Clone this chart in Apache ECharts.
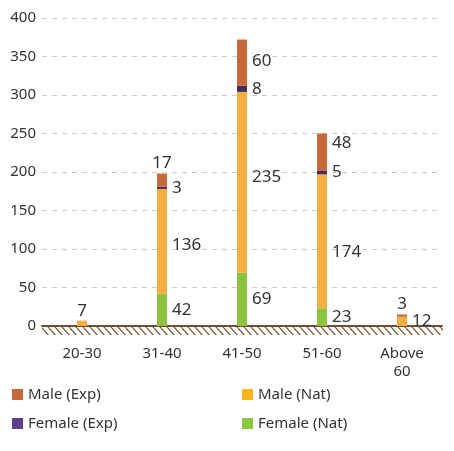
<!DOCTYPE html>
<html><head><meta charset="utf-8">
<script src="https://cdn.jsdelivr.net/npm/echarts@6/dist/echarts.min.js"></script>
<style>html,body{margin:0;padding:0;background:#fff}#c{width:454px;height:451px}</style>
</head><body><div id="c"></div>
<script>
const categories = ['20-30', '31-40', '41-50', '51-60', 'Above\n60'];
const femaleNat = [0, 42, 69, 23, 0];
const maleNat = [7, 136, 235, 174, 12];
const femaleExp = [0, 3, 8, 5, 0];
const maleExp = [0, 17, 60, 48, 3];
const yTicks = [0, 50, 100, 150, 200, 250, 300, 350, 400];

const FONT = '"Noto Sans", "Open Sans", sans-serif';
const TXT = '#333333';

// label placement style (not data)
const labelStyle = {
  'Female (Nat)': [{}, {}, {}, {}, {}],
  'Male (Nat)': [{position: 'top', distance: 1}, {offset: [0, 4]}, {offset: [0, -5]}, {offset: [0, 11]}, {}],
  'Female (Exp)': [{}, {}, {}, {}, {}],
  'Male (Exp)': [{}, {position: 'top', offset: [0, 3]}, {offset: [0, -2]}, {offset: [0, -9]}, {position: 'top', distance: 2}]
};

function mkSeries(name, values, color) {
  return {
    name: name, type: 'bar', stack: 'all', barWidth: 10,
    itemStyle: {color: color},
    data: values.map((v, i) => ({
      value: v,
      label: Object.assign({
        show: v > 0, position: 'right', distance: 5,
        color: TXT, fontSize: 17, fontFamily: FONT
      }, labelStyle[name][i])
    }))
  };
}

const chart = echarts.init(document.getElementById('c'), null, {renderer: 'canvas'});

// hatch pattern for ground strip
const pc = document.createElement('canvas');
pc.width = 7; pc.height = 8;
const pctx = pc.getContext('2d');
pctx.strokeStyle = '#7a5b3b';
pctx.lineWidth = 1.3;
pctx.beginPath(); pctx.moveTo(0, 0); pctx.lineTo(7, 8); pctx.stroke();
pctx.beginPath(); pctx.moveTo(-7, 0); pctx.lineTo(0, 8); pctx.stroke();
pctx.beginPath(); pctx.moveTo(7, 0); pctx.lineTo(14, 8); pctx.stroke();

const legendText = {color: TXT, fontSize: 15, fontFamily: FONT, lineHeight: 18};

chart.setOption({
  animation: false,
  textStyle: {fontFamily: FONT},
  grid: {left: 42, right: 12, top: 18, bottom: 125},
  xAxis: {
    type: 'category', data: categories,
    axisLine: {show: true, lineStyle: {color: '#6b5034', width: 2}},
    axisTick: {show: false},
    axisLabel: {color: TXT, fontSize: 15, fontFamily: FONT, margin: 19, lineHeight: 18}
  },
  yAxis: {
    type: 'value', min: 0, max: 400, interval: 50,
    axisLine: {show: false}, axisTick: {show: false},
    axisLabel: {color: TXT, fontSize: 15, fontFamily: FONT, margin: 6,
      formatter: v => yTicks.includes(v) ? String(v) : ''},
    splitLine: {lineStyle: {color: '#cccccc', type: [5, 5], width: 1}}
  },
  legend: [
    {
      orient: 'vertical', left: 12, top: 385.5, padding: 0, itemWidth: 11, itemHeight: 11,
      itemGap: 11, icon: 'rect', textStyle: legendText,
      data: [
        {name: 'Male (Exp)', itemStyle: {color: '#c8693b'}},
        {name: 'Female (Exp)', itemStyle: {color: '#5e3e8c'}}
      ]
    },
    {
      orient: 'vertical', left: 242, top: 385.5, padding: 0, itemWidth: 11, itemHeight: 11,
      itemGap: 11, icon: 'rect', textStyle: legendText,
      data: [
        {name: 'Male (Nat)', itemStyle: {color: '#fbb31a'}},
        {name: 'Female (Nat)', itemStyle: {color: '#8dc63f'}}
      ]
    }
  ],
  series: [
    mkSeries('Female (Nat)', femaleNat, '#8cc43e'),
    mkSeries('Male (Nat)', maleNat, '#f5ae42'),
    mkSeries('Female (Exp)', femaleExp, '#3e2f5e'),
    mkSeries('Male (Exp)', maleExp, '#c8683b')
  ]
});

// ground strip below the axis, placed via the axis scale
const p0 = chart.convertToPixel({gridIndex: 0}, [0, 0]);
const gridRect = chart.getModel().getComponent('grid', 0).coordinateSystem.getRect();
chart.setOption({
  graphic: [{
    type: 'rect', silent: true, z: 0,
    shape: {x: gridRect.x, y: p0[1] + 1, width: gridRect.width + 1, height: 8},
    style: {fill: {image: pc, repeat: 'repeat'}}
  }]
});
</script></body></html>
